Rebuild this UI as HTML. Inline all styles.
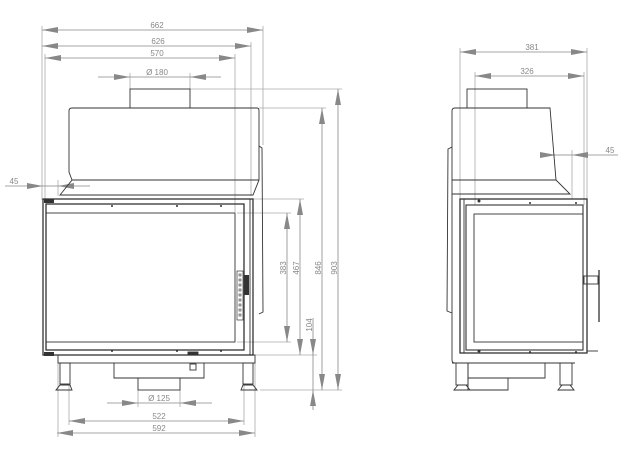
<!DOCTYPE html>
<html><head><meta charset="utf-8"><style>
html,body{margin:0;padding:0;background:#fff}
svg{display:block}
text{font-family:"Liberation Sans",sans-serif;font-size:8px;fill:#888}
</style></head><body>
<svg width="624" height="460" viewBox="0 0 624 460" xmlns="http://www.w3.org/2000/svg">
<defs>
<marker id="a" viewBox="0 0 16 6" refX="16" refY="3" markerWidth="16" markerHeight="6" markerUnits="userSpaceOnUse" orient="auto-start-reverse"><path d="M0,0 L16,3 L0,6 Z" fill="#888"/></marker>
</defs>
<g stroke="#aaa" stroke-width="0.8" fill="none">
<!-- extension lines left view -->
<line x1="42" y1="26" x2="42" y2="200"/>
<line x1="263" y1="26" x2="263" y2="145"/>
<line x1="251" y1="42" x2="251" y2="196"/>
<line x1="45" y1="54" x2="45" y2="200"/>
<line x1="235" y1="54" x2="235" y2="212"/>
<line x1="130" y1="73" x2="130" y2="89"/>
<line x1="190" y1="73" x2="190" y2="89"/>
<line x1="58" y1="360" x2="58" y2="437"/>
<line x1="69" y1="385" x2="69" y2="425"/>
<line x1="244" y1="385" x2="244" y2="425"/>
<line x1="255" y1="360" x2="255" y2="437"/>
<line x1="138" y1="390" x2="138" y2="407"/>
<line x1="180" y1="390" x2="180" y2="407"/>
<line x1="190" y1="89" x2="342" y2="89"/>
<line x1="259" y1="108" x2="326" y2="108"/>
<line x1="253" y1="199" x2="304" y2="199"/>
<line x1="237" y1="213" x2="291" y2="213"/>
<line x1="237" y1="342" x2="291" y2="342"/>
<line x1="253" y1="355" x2="317" y2="355"/>
<line x1="260" y1="390" x2="342" y2="390"/>
<line x1="58" y1="180" x2="58" y2="196"/>
<!-- extension lines right view -->
<line x1="460" y1="48" x2="460" y2="199"/>
<line x1="587" y1="48" x2="587" y2="199"/>
<line x1="475" y1="72" x2="475" y2="205"/>
<line x1="584" y1="72" x2="584" y2="205"/>
<line x1="572" y1="150" x2="572" y2="199"/>
</g>
<g stroke="#888" stroke-width="0.8" fill="none">
<line x1="42" y1="30" x2="263" y2="30" marker-start="url(#a)" marker-end="url(#a)"/>
<line x1="42" y1="46" x2="251" y2="46" marker-start="url(#a)" marker-end="url(#a)"/>
<line x1="45" y1="58" x2="235" y2="58" marker-start="url(#a)" marker-end="url(#a)"/>
<line x1="98" y1="77" x2="130" y2="77" marker-end="url(#a)"/>
<line x1="221" y1="77" x2="190" y2="77" marker-end="url(#a)"/>
<line x1="130" y1="77" x2="190" y2="77"/>
<line x1="5" y1="186" x2="43" y2="186" marker-end="url(#a)"/>
<line x1="90" y1="186" x2="58" y2="186" marker-end="url(#a)"/>
<line x1="43" y1="186" x2="58" y2="186"/>
<line x1="287" y1="213" x2="287" y2="342" marker-start="url(#a)" marker-end="url(#a)"/>
<line x1="300" y1="199" x2="300" y2="355" marker-start="url(#a)" marker-end="url(#a)"/>
<line x1="313" y1="318" x2="313" y2="355" marker-end="url(#a)"/>
<line x1="313" y1="410" x2="313" y2="390" marker-end="url(#a)"/>
<line x1="313" y1="355" x2="313" y2="390"/>
<line x1="322" y1="108" x2="322" y2="390" marker-start="url(#a)" marker-end="url(#a)"/>
<line x1="338" y1="89" x2="338" y2="390" marker-start="url(#a)" marker-end="url(#a)"/>
<line x1="107" y1="403" x2="138" y2="403" marker-end="url(#a)"/>
<line x1="212" y1="403" x2="180" y2="403" marker-end="url(#a)"/>
<line x1="138" y1="403" x2="180" y2="403"/>
<line x1="69" y1="421" x2="244" y2="421" marker-start="url(#a)" marker-end="url(#a)"/>
<line x1="57" y1="433" x2="255" y2="433" marker-start="url(#a)" marker-end="url(#a)"/>
<line x1="460" y1="52" x2="587" y2="52" marker-start="url(#a)" marker-end="url(#a)"/>
<line x1="475" y1="76" x2="584" y2="76" marker-start="url(#a)" marker-end="url(#a)"/>
<line x1="540" y1="155" x2="556" y2="155" marker-end="url(#a)"/>
<line x1="618" y1="155" x2="572" y2="155" marker-end="url(#a)"/>
<line x1="556" y1="155" x2="572" y2="155"/>
</g>
<g>
<text x="157" y="28" text-anchor="middle">662</text>
<text x="158" y="44" text-anchor="middle">626</text>
<text x="157" y="56" text-anchor="middle">570</text>
<text x="157" y="75" text-anchor="middle">Ø 180</text>
<text x="14" y="184" text-anchor="middle">45</text>
<text x="159" y="401" text-anchor="middle">Ø 125</text>
<text x="159" y="419" text-anchor="middle">522</text>
<text x="159" y="431" text-anchor="middle">592</text>
<text transform="translate(286,268) rotate(-90)" text-anchor="middle">383</text>
<text transform="translate(299,268) rotate(-90)" text-anchor="middle">467</text>
<text transform="translate(312,325) rotate(-90)" text-anchor="middle">104</text>
<text transform="translate(321,268) rotate(-90)" text-anchor="middle">846</text>
<text transform="translate(337,268) rotate(-90)" text-anchor="middle">903</text>
<text x="532" y="50" text-anchor="middle">381</text>
<text x="527" y="74" text-anchor="middle">326</text>
<text x="610" y="153" text-anchor="middle">45</text>
</g>
<!-- LEFT VIEW -->
<g stroke="#333" stroke-width="0.9" fill="none">
<rect x="130" y="89" width="60" height="19"/>
<path d="M72,108 L257,108 Q259,108 259,111 L259,180 L253,195 L60,195 L72,180 L69,172 L69,111 Q69,108 72,108 Z"/>
<line x1="72" y1="180" x2="259" y2="180"/>
<path d="M259,146 L262,148 L263,312 L259,314"/>
<rect x="43" y="199" width="210" height="156" stroke-width="1.3"/>
<rect x="46" y="204" width="198" height="146" stroke-width="1.3"/>
<rect x="46" y="213" width="189" height="129"/>
<rect x="237" y="271" width="6" height="49" stroke-width="0.7"/>
<line x1="250" y1="199" x2="250" y2="355"/>
<rect x="58" y="355" width="197" height="8"/>
<rect x="60" y="363" width="10" height="21"/>
<rect x="243" y="363" width="10" height="21"/>
<path d="M56,390 L60,385 L70,385 L72,390 Z"/>
<path d="M241,390 L243,385 L253,385 L257,390 Z"/>
<path d="M114,363 L114,378 L204,378 L204,363"/>
<rect x="138" y="378" width="42" height="12"/>
<rect x="190" y="364" width="6" height="6"/>
<rect x="188" y="352" width="10" height="3" fill="#333"/>
</g>
<g fill="#333">
<circle cx="112" cy="206" r="1"/><circle cx="177" cy="206" r="1"/><circle cx="221" cy="206" r="1"/>
<circle cx="112" cy="351" r="1"/><circle cx="177" cy="351" r="1"/><circle cx="221" cy="351" r="1"/>
<rect x="44" y="199" width="10" height="4"/><rect x="44" y="352" width="10" height="4"/>
<rect x="244" y="275" width="5" height="20"/>
</g>
<g stroke="#333" stroke-width="0.6" fill="none">
<rect x="239" y="274" width="2" height="2"/><rect x="239" y="279" width="2" height="2"/><rect x="239" y="284" width="2" height="2"/><rect x="239" y="289" width="2" height="2"/><rect x="239" y="294" width="2" height="2"/><rect x="239" y="299" width="2" height="2"/><rect x="239" y="304" width="2" height="2"/><rect x="239" y="309" width="2" height="2"/><rect x="239" y="314" width="2" height="2"/>
</g>
<!-- RIGHT VIEW -->
<g stroke="#333" stroke-width="0.9" fill="none">
<rect x="467" y="89" width="60" height="19"/>
<path d="M455,108 L550,108 L556,180 L570,194 L452,194 L452,111 Q452,108 455,108 Z"/>
<line x1="452" y1="180" x2="556" y2="180"/>
<path d="M452,147 L448,149 L447,311 L452,313"/>
<path d="M452,194 L452,360 Q452,363 455,363 L460,363"/>
<rect x="460" y="199" width="127" height="154" stroke-width="1.3"/>
<rect x="466" y="205" width="117" height="145" stroke-width="1.1"/>
<rect x="474" y="214" width="109" height="128"/>
<line x1="464" y1="199" x2="464" y2="353"/>
<rect x="584" y="276" width="14" height="8"/>
<line x1="599" y1="270" x2="599" y2="322" stroke-width="1.3"/>
<line x1="587" y1="351" x2="598" y2="351"/>
<rect x="456" y="363" width="12" height="22"/>
<rect x="560" y="363" width="12" height="22"/>
<path d="M454,390 L458,385 L466,385 L470,390 Z"/>
<path d="M558,390 L562,385 L570,385 L574,390 Z"/>
<path d="M468,363 L468,378 L545,378 L545,363"/>
<path d="M468,378 L468,390 L508,390 L508,378"/>
<line x1="452" y1="363" x2="575" y2="363"/>
</g>
<g fill="#333">
<circle cx="479" cy="201" r="1.5"/><circle cx="479" cy="351" r="1.5"/>
<circle cx="530" cy="203" r="1"/><circle cx="530" cy="352" r="1"/>
<circle cx="576" cy="203" r="1"/><circle cx="576" cy="352" r="1"/>
</g>
</svg>
</body></html>
